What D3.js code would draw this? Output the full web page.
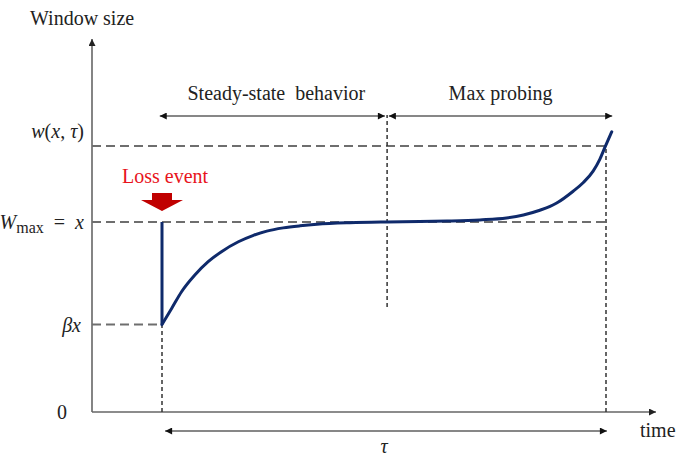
<!DOCTYPE html>
<html lang="en">
<head>
  <meta charset="UTF-8">
  <title>Window growth after a loss event</title>
  <script src="https://d3js.org/d3.v7.min.js"></script>
  <style>
    body { margin: 0; background: white; }
    text { font-family: "Liberation Serif", "Times New Roman", serif; }
  </style>
</head>
<body>
  <svg id="chart" width="676" height="456"></svg>

  <script>
    // window size curve (t: 0 = loss event, 1 = tau; w: 1 = Wmax)
    const curveTime = [0, 0.022, 0.044, 0.074, 0.104, 0.134, 0.172, 0.206, 0.236, 0.273, 0.311, 0.349, 0.423, 0.507,
                       0.58, 0.642, 0.716, 0.776, 0.814, 0.851, 0.874, 0.889, 0.926, 0.949, 0.971, 0.986, 0.998, 1.013];
    const curveWindow = [0.46, 0.546, 0.633, 0.721, 0.791, 0.844, 0.896, 0.93, 0.952, 0.969, 0.98, 0.988, 0.996, 1.0,
                         1.002, 1.005, 1.011, 1.021, 1.037, 1.062, 1.082, 1.1, 1.162, 1.208, 1.268, 1.33, 1.395, 1.475];

    const beta = 0.46;      // βx level
    const wMax = 1;         // Wmax = x
    const wTau = 1.4;       // w(x, τ)
    const tLoss = 0;
    const tK = 0.507;       // end of steady-state
    const tTau = 1;

    const phaseLabels = ["Steady-state  behavior", "Max probing"];
    const phaseStarts = [-0.005, 0.511];
    const phaseEnds = [0.502, 1.014];

    const x = d3.scaleLinear().domain([0, 1]).range([162, 606]);
    const y = d3.scaleLinear().domain([0, 1]).range([412, 222]);
    const tMin = x.invert(92), tMax = x.invert(656);
    const wTop = y.invert(39);

    const svg = d3.select("#chart");

    const defs = svg.append("defs");
    function addMarker(id, color, w, h) {
      defs.append("marker")
        .attr("id", id)
        .attr("viewBox", "0 0 10 10")
        .attr("refX", 10).attr("refY", 5)
        .attr("markerUnits", "userSpaceOnUse")
        .attr("markerWidth", w).attr("markerHeight", h)
        .attr("orient", "auto-start-reverse")
        .append("path")
        .attr("d", "M0,0 L10,5 L0,10 Z")
        .attr("fill", color);
    }
    addMarker("arr", "#111", 9, 7);
    addMarker("axisArr", "#222", 8, 7);

    // axes
    svg.append("line")
      .attr("x1", x(tMin)).attr("y1", y(0))
      .attr("x2", x(tMin)).attr("y2", y(wTop))
      .attr("stroke", "#666").attr("stroke-width", 1.6)
      .attr("marker-end", "url(#axisArr)");
    svg.append("line")
      .attr("x1", x(tMin)).attr("y1", y(0))
      .attr("x2", x(tMax)).attr("y2", y(0))
      .attr("stroke", "#666").attr("stroke-width", 1.6)
      .attr("marker-end", "url(#axisArr)");

    // horizontal dashed guides
    const hGuides = [[beta, tLoss], [wMax, tTau], [wTau, tTau]];
    hGuides.forEach(([w, tEnd]) => {
      svg.append("line")
        .attr("x1", x(tMin)).attr("y1", y(w))
        .attr("x2", x(tEnd)).attr("y2", y(w))
        .attr("stroke", "#6e6e6e").attr("stroke-width", 2)
        .attr("stroke-dasharray", "9,5");
    });

    // vertical dotted guides
    const vGuides = [[tLoss, 0, beta], [tK, 0.553, 1.563], [tTau, 0, wTau]];
    vGuides.forEach(([t, w0, w1]) => {
      svg.append("line")
        .attr("x1", x(t)).attr("y1", y(w0))
        .attr("x2", x(t)).attr("y2", y(w1))
        .attr("stroke", "#333").attr("stroke-width", 1.5)
        .attr("stroke-dasharray", "4,3");
    });

    // window curve
    svg.append("line")
      .attr("x1", x(tLoss)).attr("y1", y(wMax))
      .attr("x2", x(tLoss)).attr("y2", y(beta))
      .attr("stroke", "#0f2a6b").attr("stroke-width", 3);
    const pts = curveTime.map((t, i) => [x(t), y(curveWindow[i])]);
    svg.append("path")
      .attr("d", d3.line().curve(d3.curveMonotoneX)(pts))
      .attr("fill", "none")
      .attr("stroke", "#0f2a6b").attr("stroke-width", 3)
      .attr("stroke-linecap", "round");

    // phase arrows and labels
    const phaseW = y.invert(116);
    phaseLabels.forEach((label, i) => {
      svg.append("line")
        .attr("x1", x(phaseStarts[i])).attr("y1", y(phaseW))
        .attr("x2", x(phaseEnds[i])).attr("y2", y(phaseW))
        .attr("stroke", "#111").attr("stroke-width", 1.2)
        .attr("marker-start", "url(#arr)")
        .attr("marker-end", "url(#arr)");
      svg.append("text")
        .attr("x", (x(phaseStarts[i]) + x(phaseEnds[i])) / 2 + (i === 0 ? 4 : 0))
        .attr("y", 100)
        .attr("text-anchor", "middle")
        .attr("font-size", 20)
        .attr("fill", "#222")
        .style("white-space", "pre")
        .text(label);
    });

    // tau arrow
    const tauW = y.invert(431);
    svg.append("line")
      .attr("x1", x(0.007)).attr("y1", y(tauW))
      .attr("x2", x(1.002)).attr("y2", y(tauW))
      .attr("stroke", "#111").attr("stroke-width", 1.2)
      .attr("marker-start", "url(#arr)")
      .attr("marker-end", "url(#arr)");
    svg.append("text")
      .attr("x", x(0.5)).attr("y", 453)
      .attr("text-anchor", "middle")
      .attr("font-size", 20).attr("font-style", "italic")
      .attr("fill", "#222")
      .text("τ");

    svg.append("text")
      .attr("x", 640).attr("y", 437)
      .attr("font-size", 20).attr("fill", "#222")
      .text("time");

    svg.append("text")
      .attr("x", 30).attr("y", 25)
      .attr("font-size", 20).attr("fill", "#222")
      .text("Window size");

    // y labels
    const labelX = 84;
    const wt = svg.append("text").attr("x", labelX).attr("y", y(wTau) - 8)
      .attr("text-anchor", "end").attr("font-size", 20).attr("fill", "#222")
      .style("white-space", "pre");
    wt.append("tspan").attr("font-style", "italic").text("w");
    wt.append("tspan").text("(");
    wt.append("tspan").attr("font-style", "italic").text("x");
    wt.append("tspan").text(", ");
    wt.append("tspan").attr("font-style", "italic").text("τ");
    wt.append("tspan").text(")");

    const wm = svg.append("text").attr("x", labelX).attr("y", y(wMax) + 7)
      .attr("text-anchor", "end").attr("font-size", 20).attr("fill", "#222")
      .style("white-space", "pre");
    wm.append("tspan").attr("font-style", "italic").text("W");
    wm.append("tspan").attr("font-size", 16).attr("dy", 4).text("max");
    wm.append("tspan").attr("dy", -4).text("  =  ");
    wm.append("tspan").attr("font-style", "italic").text("x");

    svg.append("text").attr("x", labelX - 3).attr("y", y(beta) + 7)
      .attr("text-anchor", "end").attr("font-size", 20).attr("font-style", "italic")
      .attr("fill", "#222").text("βx");

    svg.append("text").attr("x", 67).attr("y", y(0) + 7)
      .attr("text-anchor", "end").attr("font-size", 20)
      .attr("fill", "#222").text("0");

    // loss event
    svg.append("text")
      .attr("x", x(tLoss) - 40).attr("y", 183)
      .attr("font-size", 20).attr("fill", "#e8141c")
      .text("Loss event");

    const cx = x(tLoss);
    const aTop = 193, aMid = 200, aTip = 211;
    svg.append("path")
      .attr("d", `M${cx - 10},${aTop} L${cx + 10},${aTop} L${cx + 10},${aMid} L${cx + 21},${aMid}
                  L${cx},${aTip} L${cx - 21},${aMid} L${cx - 10},${aMid} Z`)
      .attr("fill", "#c00000");
  </script>
</body>
</html>
